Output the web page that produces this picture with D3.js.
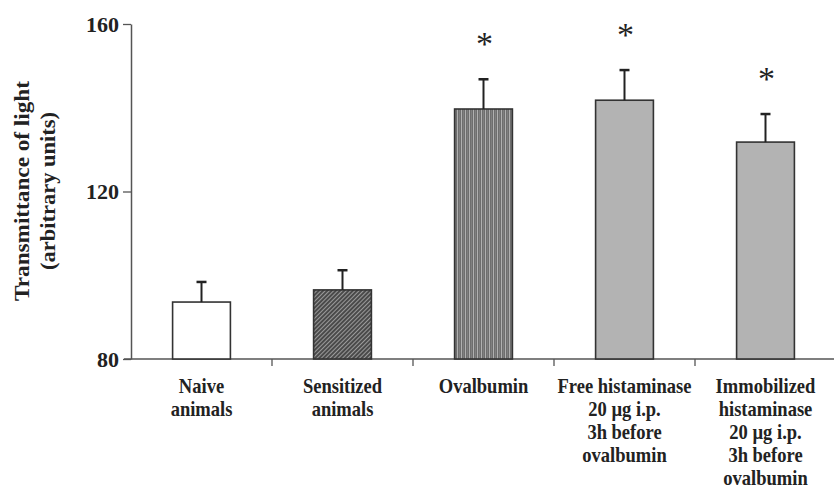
<!DOCTYPE html>
<html>
<head>
<meta charset="utf-8">
<script src="https://cdn.jsdelivr.net/npm/d3@7"></script>
<style>
  body { margin: 0; background: #fff; }
  text { font-family: "Liberation Serif", "Times New Roman", serif; font-weight: bold; fill: #222; }
</style>
</head>
<body>
<div id="chart"></div>
<script>
// data
var groups = ["naive", "sensitized", "ovalbumin", "free", "immob"];
var labels = [
  ["Naive", "animals"],
  ["Sensitized", "animals"],
  ["Ovalbumin"],
  ["Free histaminase", "20 \u00b5g i.p.", "3h before", "ovalbumin"],
  ["Immobilized", "histaminase", "20 \u00b5g i.p.", "3h before", "ovalbumin"]
];
var means = [93.6, 96.5, 139.7, 141.8, 131.8];
var errs  = [4.8, 4.7, 7.1, 7.2, 6.7];
var signif = [false, false, true, true, true];
var yTicks = [80, 120, 160];

var width = 834, height = 493;

var svg = d3.select("#chart").append("svg")
    .attr("width", width)
    .attr("height", height);

// fill patterns
var defs = svg.append("defs");

var hatch = defs.append("pattern")
    .attr("id", "hatch")
    .attr("patternUnits", "userSpaceOnUse")
    .attr("width", 3).attr("height", 3)
    .attr("patternTransform", "rotate(45)");
hatch.append("rect").attr("width", 3).attr("height", 3).attr("fill", "#4a4a4a");
hatch.append("rect").attr("width", 1).attr("height", 3).attr("fill", "#9a9a9a");

var vstripe = defs.append("pattern")
    .attr("id", "vstripe")
    .attr("patternUnits", "userSpaceOnUse")
    .attr("width", 4).attr("height", 4);
vstripe.append("rect").attr("width", 4).attr("height", 4).attr("fill", "#6e6e6e");
vstripe.append("rect").attr("x", 1).attr("width", 1).attr("height", 4).attr("fill", "#b0b0b0");
vstripe.append("rect").attr("x", 3).attr("width", 0.6).attr("height", 4).attr("fill", "#8c8c8c");

var fills = ["#ffffff", "url(#hatch)", "url(#vstripe)", "#b3b3b3", "#b3b3b3"];

var x = d3.scaleBand()
    .domain(groups)
    .range([131, 836])
    .paddingInner(0.59)
    .paddingOuter(0.295);

var y = d3.scaleLinear()
    .domain([80, 160])
    .range([359, 24]);

// y axis
var yAxis = svg.append("g")
    .attr("transform", "translate(131,0)")
    .call(d3.axisLeft(y).tickValues(yTicks).tickSize(8).tickSizeOuter(0).tickFormat(d3.format("d")));
yAxis.select(".domain").attr("stroke", "#555").attr("stroke-width", 1.5);
yAxis.selectAll(".tick line").attr("stroke", "#555").attr("stroke-width", 1.3);
yAxis.selectAll(".tick text")
    .attr("x", -12)
    .style("font-size", "22px")
    .style("font-family", "Liberation Serif, serif")
    .style("font-weight", "bold")
    .attr("fill", "#222");

// x axis with ticks between the groups
var step = x.step();
var bounds = groups.slice(1).map(function(d) { return x(d) - x.paddingOuter() * step; });
var xg = svg.append("g");
xg.append("line")
    .attr("x1", 124).attr("x2", 834)
    .attr("y1", y(80)).attr("y2", y(80))
    .attr("stroke", "#555").attr("stroke-width", 1.5);
xg.selectAll(".xt")
    .data(bounds)
    .enter()
    .append("line")
    .attr("class", "xt")
    .attr("x1", function(d) { return d; })
    .attr("x2", function(d) { return d; })
    .attr("y1", y(80))
    .attr("y2", y(80) + 7)
    .attr("stroke", "#555").attr("stroke-width", 1.3);

// bars
svg.selectAll(".bar")
    .data(groups)
    .enter()
    .append("rect")
    .attr("class", "bar")
    .attr("x", function(d) { return x(d); })
    .attr("y", function(d, i) { return y(means[i]); })
    .attr("width", x.bandwidth())
    .attr("height", function(d, i) { return y(80) - y(means[i]); })
    .attr("fill", function(d, i) { return fills[i]; })
    .attr("stroke", "#333")
    .attr("stroke-width", 1.6);

// error bars (upper only)
svg.selectAll(".err")
    .data(groups)
    .enter()
    .append("line")
    .attr("class", "err")
    .attr("x1", function(d) { return x(d) + x.bandwidth() / 2; })
    .attr("x2", function(d) { return x(d) + x.bandwidth() / 2; })
    .attr("y1", function(d, i) { return y(means[i]); })
    .attr("y2", function(d, i) { return y(means[i] + errs[i]); })
    .attr("stroke", "#222").attr("stroke-width", 2);

svg.selectAll(".cap")
    .data(groups)
    .enter()
    .append("line")
    .attr("class", "cap")
    .attr("x1", function(d) { return x(d) + x.bandwidth() / 2 - 5; })
    .attr("x2", function(d) { return x(d) + x.bandwidth() / 2 + 5; })
    .attr("y1", function(d, i) { return y(means[i] + errs[i]); })
    .attr("y2", function(d, i) { return y(means[i] + errs[i]); })
    .attr("stroke", "#222").attr("stroke-width", 2.5);

// significance stars
svg.selectAll(".star")
    .data(groups.filter(function(d, i) { return signif[i]; }))
    .enter()
    .append("text")
    .attr("class", "star")
    .attr("x", function(d) { return x(d) + x.bandwidth() / 2 + 1; })
    .attr("y", function(d) { var i = groups.indexOf(d); return y(means[i] + errs[i]) - 24; })
    .attr("text-anchor", "middle")
    .style("font-size", "34px")
    .style("font-weight", "normal")
    .text("*");

// category labels
labels.forEach(function(lines, i) {
  var cx = x(groups[i]) + x.bandwidth() / 2;
  var t = svg.append("text")
      .attr("text-anchor", "middle")
      .attr("transform", "translate(" + cx + ",393) scale(0.95,1.1)")
      .style("font-size", "19.5px");
  lines.forEach(function(s, j) {
    t.append("tspan").attr("x", 0).attr("y", j * 21).text(s);
  });
});

// y axis title
var yt = svg.append("text")
    .attr("text-anchor", "middle")
    .attr("transform", "translate(0,191) rotate(-90)")
    .style("font-size", "22px");
yt.append("tspan").attr("x", 0).attr("y", 29).attr("textLength", 220).attr("lengthAdjust", "spacingAndGlyphs").text("Transmittance of light");
yt.append("tspan").attr("x", 0).attr("y", 55).attr("textLength", 158).attr("lengthAdjust", "spacingAndGlyphs").text("(arbitrary units)");
</script>
</body>
</html>
